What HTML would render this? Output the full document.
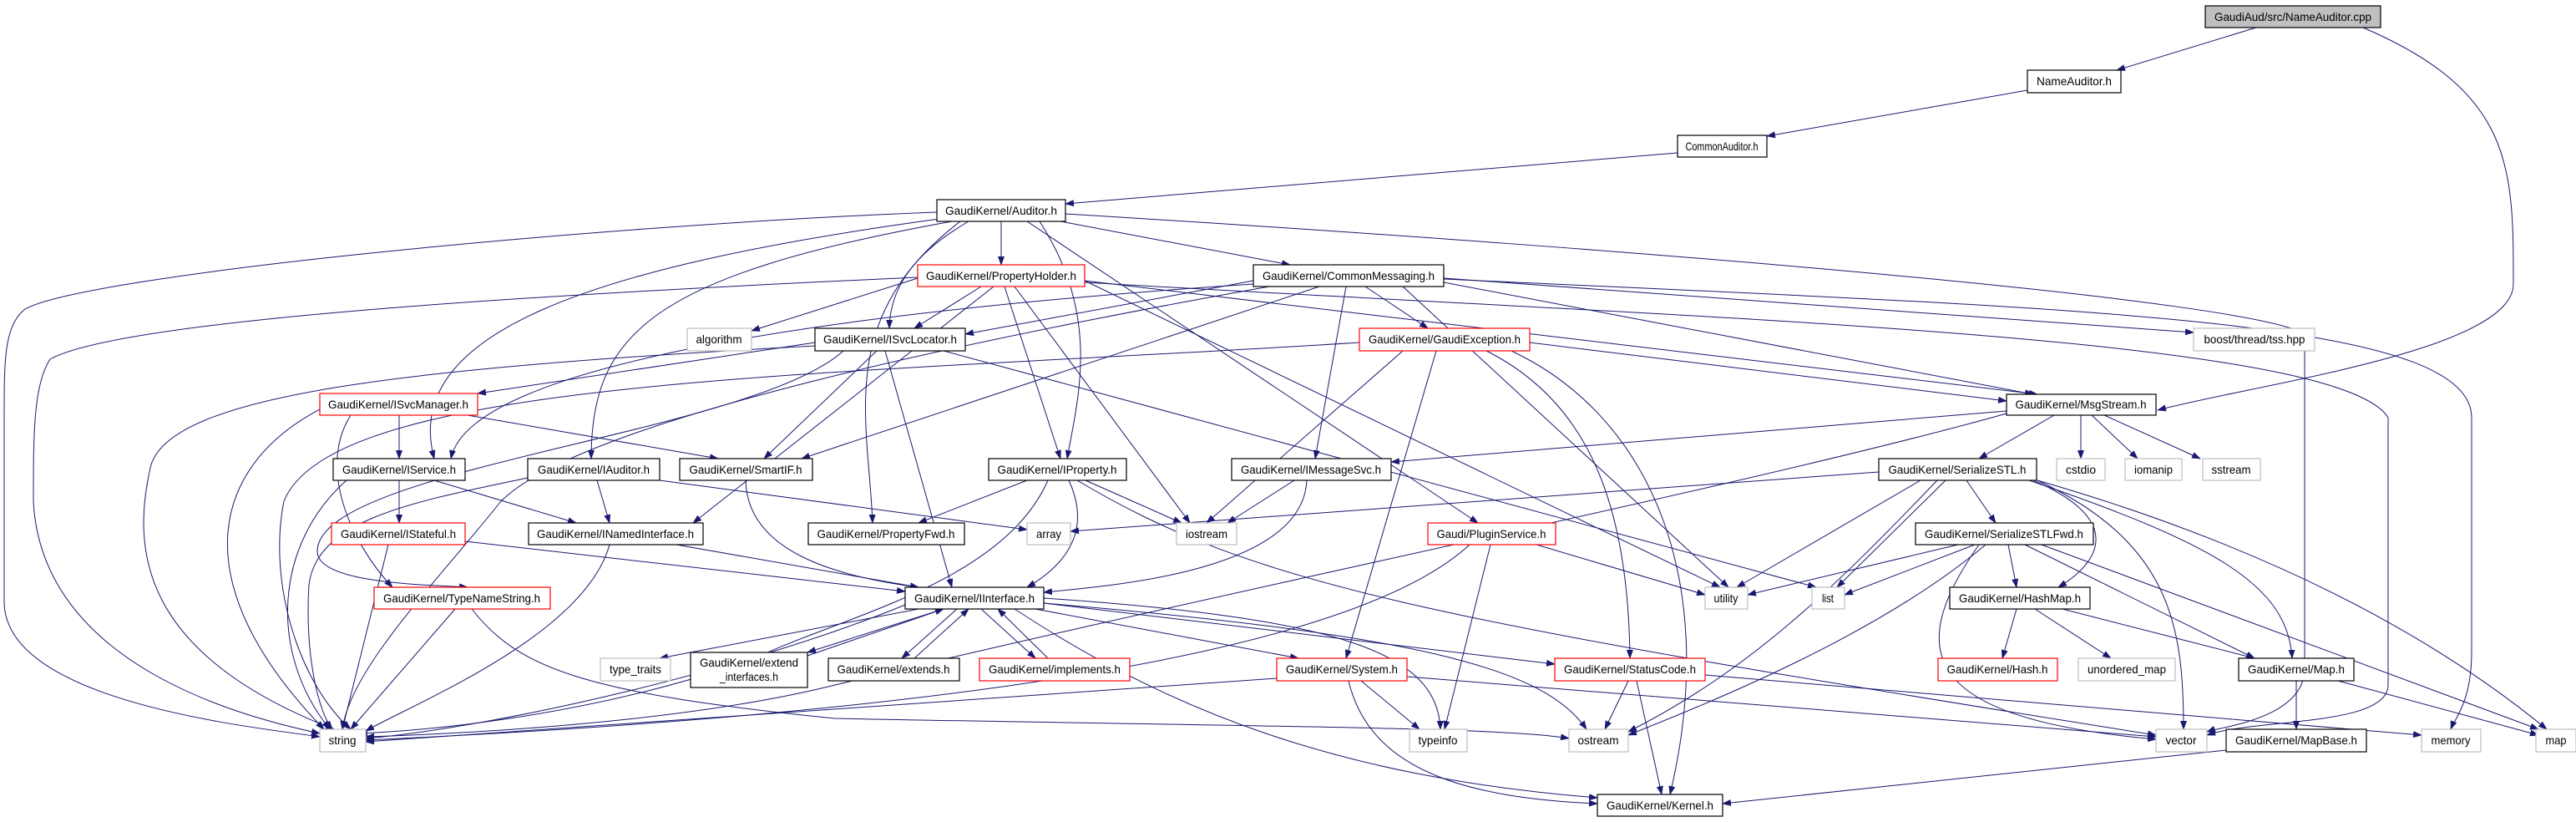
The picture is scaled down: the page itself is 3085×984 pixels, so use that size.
<!DOCTYPE html>
<html><head><meta charset="utf-8"><style>
html,body{margin:0;padding:0;background:#fff;}
svg{display:block;}
text{font-family:"Liberation Sans",sans-serif;font-size:14px;fill:#000;}
.e{stroke:#191970;stroke-width:1;fill:none;marker-end:url(#a);}
.n{fill:#fff;stroke:#000;stroke-width:1.2;}
.r{fill:#fff;stroke:#ff0000;stroke-width:1.2;}
.g{fill:#fff;stroke:#bfbfbf;stroke-width:1.2;}
</style></head><body>
<svg width="3085" height="984" viewBox="0 0 3085 984" xmlns="http://www.w3.org/2000/svg">
<defs><marker id="a" markerWidth="11" markerHeight="8" refX="10" refY="4" orient="auto" markerUnits="userSpaceOnUse"><path d="M0,0 L11,4 L0,8 z" fill="#191970"/></marker></defs>
<g>
<line class="e" x1="2702" y1="33" x2="2535" y2="84"/>
<path class="e" d="M2830,33 C3010,110 3010,200 3010,340 C3010,420 2700,460 2584,491"/>
<line class="e" x1="2428" y1="108" x2="2116" y2="163"/>
<line class="e" x1="2009" y1="183" x2="1276" y2="244"/>
<path class="e" d="M1122,254 C700,270 100,330 30,370 C5,390 5,430 5,500 L5,720 C5,840 300,870 383,882"/>
<line class="e" x1="1199" y1="265" x2="1199" y2="317"/>
<line class="e" x1="1270" y1="265" x2="1545" y2="317"/>
<path class="e" d="M1160,265 C1100,300 1066,340 1065,393"/>
<path class="e" d="M1125,262 C700,320 480,400 520,549"/>
<path class="e" d="M1140,265 C780,330 708,400 708,549"/>
<path class="e" d="M1150,265 C1000,380 1040,500 1045,626"/>
<path class="e" d="M1245,265 C1320,380 1290,480 1278,549"/>
<line class="e" x1="1230" y1="265" x2="1770" y2="626"/>
<path class="e" d="M1276,256 C2000,300 2700,360 2760,400 L2760,800 C2760,860 2660,870 2643,876"/>
<line class="e" x1="1099" y1="333" x2="900" y2="396"/>
<line class="e" x1="1175" y1="343" x2="1095" y2="393"/>
<line class="e" x1="1203" y1="343" x2="1270" y2="549"/>
<line class="e" x1="1215" y1="343" x2="1425" y2="626"/>
<path class="e" d="M1099,332 C700,350 150,380 60,430 C40,460 40,520 40,600 C50,800 300,860 383,878"/>
<line class="e" x1="1190" y1="343" x2="830" y2="626"/>
<line class="e" x1="1299" y1="336" x2="2060" y2="703"/>
<line class="e" x1="1299" y1="336" x2="2440" y2="472"/>
<path class="e" d="M1299,338 C2000,380 2800,400 2860,500 L2860,820 C2860,870 2700,860 2643,880"/>
<line class="e" x1="1501" y1="336" x2="1156" y2="400"/>
<line class="e" x1="1612" y1="343" x2="1575" y2="549"/>
<line class="e" x1="1635" y1="343" x2="1710" y2="393"/>
<line class="e" x1="1729" y1="338" x2="2435" y2="472"/>
<line class="e" x1="1729" y1="333" x2="2627" y2="398"/>
<path class="e" d="M1729,334 C2500,370 2960,380 2960,500 L2960,780 C2960,840 2940,860 2935,873"/>
<line class="e" x1="1580" y1="343" x2="960" y2="549"/>
<path class="e" d="M1501,340 C900,380 560,450 540,549"/>
<line class="e" x1="1680" y1="343" x2="2070" y2="703"/>
<path class="e" d="M1520,343 C1200,400 700,500 600,600 C520,700 420,800 410,873"/>
<line class="e" x1="976" y1="410" x2="572" y2="471"/>
<line class="e" x1="1050" y1="420" x2="915" y2="549"/>
<line class="e" x1="1060" y1="420" x2="1140" y2="703"/>
<line class="e" x1="1130" y1="420" x2="2175" y2="703"/>
<path class="e" d="M1010,420 C900,520 380,560 380,660 C380,700 520,700 560,703"/>
<path class="e" d="M976,414 C500,440 200,470 180,560 C160,650 160,780 400,873"/>
<line class="e" x1="1832" y1="410" x2="2403" y2="480"/>
<line class="e" x1="1680" y1="420" x2="1445" y2="626"/>
<line class="e" x1="1720" y1="420" x2="1612" y2="788"/>
<path class="e" d="M1780,420 C1900,480 1950,600 1952,788"/>
<path class="e" d="M1810,420 C1980,500 2060,700 2000,951"/>
<path class="e" d="M1628,410 C1000,450 400,450 340,600 C320,700 360,820 420,873"/>
<line class="e" x1="478" y1="497" x2="478" y2="549"/>
<line class="e" x1="560" y1="497" x2="860" y2="549"/>
<path class="e" d="M420,497 C380,560 420,650 470,703"/>
<path class="e" d="M383,490 C250,560 220,700 388,873"/>
<line class="e" x1="2403" y1="492" x2="1666" y2="553"/>
<line class="e" x1="2460" y1="497" x2="2370" y2="549"/>
<line class="e" x1="2492" y1="497" x2="2492" y2="549"/>
<line class="e" x1="2505" y1="497" x2="2560" y2="549"/>
<line class="e" x1="2520" y1="497" x2="2635" y2="549"/>
<path class="e" d="M2403,495 C2100,580 1500,700 1000,820 C800,870 500,880 438,882"/>
<line class="e" x1="478" y1="575" x2="478" y2="626"/>
<line class="e" x1="520" y1="575" x2="690" y2="626"/>
<path class="e" d="M415,575 C330,650 320,780 395,873"/>
<line class="e" x1="715" y1="575" x2="730" y2="626"/>
<line class="e" x1="790" y1="575" x2="1230" y2="634"/>
<path class="e" d="M632,572 C500,600 380,620 370,700 C365,780 380,850 398,873"/>
<path class="e" d="M893,575 C895,660 1000,690 1100,703"/>
<line class="e" x1="1230" y1="575" x2="1100" y2="626"/>
<line class="e" x1="1300" y1="575" x2="1415" y2="626"/>
<path class="e" d="M1280,575 C1310,640 1270,680 1230,703"/>
<path class="e" d="M1255,575 C1200,700 1000,740 900,790 C700,860 500,875 430,878"/>
<path class="e" d="M1290,575 C1500,700 1700,740 2582,880"/>
<line class="e" x1="1550" y1="575" x2="1470" y2="626"/>
<path class="e" d="M1565,575 C1560,680 1350,700 1250,709"/>
<line class="e" x1="557" y1="648" x2="1084" y2="708"/>
<line class="e" x1="465" y1="652" x2="410" y2="873"/>
<line class="e" x1="810" y1="652" x2="1100" y2="703"/>
<path class="e" d="M730,652 C700,760 500,840 438,875"/>
<line class="e" x1="545" y1="729" x2="420" y2="873"/>
<path class="e" d="M565,729 C620,800 700,830 1000,860 C1500,870 1800,870 1879,884"/>
<line class="e" x1="1840" y1="652" x2="2042" y2="712"/>
<line class="e" x1="1785" y1="652" x2="1730" y2="873"/>
<path class="e" d="M1760,652 C1600,800 1000,860 438,886"/>
<line class="e" x1="1100" y1="729" x2="790" y2="788"/>
<line class="e" x1="1130" y1="729" x2="967" y2="781"/>
<line class="e" x1="967" y1="785" x2="1130" y2="729"/>
<line class="e" x1="1146" y1="729" x2="1080" y2="788"/>
<line class="e" x1="1095" y1="788" x2="1160" y2="729"/>
<line class="e" x1="1175" y1="729" x2="1240" y2="788"/>
<line class="e" x1="1255" y1="788" x2="1195" y2="729"/>
<line class="e" x1="1240" y1="729" x2="1555" y2="788"/>
<line class="e" x1="1250" y1="722" x2="1862" y2="795"/>
<path class="e" d="M1250,716 C1600,740 1722,780 1725,873"/>
<path class="e" d="M1250,722 C1700,760 1850,800 1900,873"/>
<path class="e" d="M1084,724 C900,800 600,870 438,884"/>
<path class="e" d="M1215,729 C1400,850 1600,930 1913,955"/>
<line class="e" x1="1529" y1="812" x2="438" y2="888"/>
<line class="e" x1="1630" y1="815" x2="1700" y2="873"/>
<path class="e" d="M1615,815 C1640,920 1750,955 1913,962"/>
<line class="e" x1="1685" y1="810" x2="2582" y2="882"/>
<line class="e" x1="1950" y1="815" x2="1922" y2="873"/>
<line class="e" x1="1960" y1="815" x2="1990" y2="951"/>
<line class="e" x1="2042" y1="808" x2="2900" y2="880"/>
<line class="e" x1="2355" y1="575" x2="2390" y2="626"/>
<line class="e" x1="2300" y1="575" x2="2080" y2="703"/>
<line class="e" x1="2330" y1="575" x2="2200" y2="703"/>
<line class="e" x1="2250" y1="565" x2="1282" y2="636"/>
<path class="e" d="M2320,575 C2200,700 2100,800 1950,876"/>
<path class="e" d="M2440,575 C2600,650 2615,750 2615,873"/>
<path class="e" d="M2435,575 C2540,620 2520,670 2465,703"/>
<path class="e" d="M2430,575 C2650,650 2740,700 2745,788"/>
<path class="e" d="M2440,575 C2700,650 2900,750 3050,873"/>
<line class="e" x1="2345" y1="652" x2="2093" y2="712"/>
<line class="e" x1="2365" y1="652" x2="2209" y2="712"/>
<line class="e" x1="2405" y1="652" x2="2415" y2="703"/>
<line class="e" x1="2425" y1="652" x2="2700" y2="788"/>
<line class="e" x1="2445" y1="652" x2="3040" y2="873"/>
<path class="e" d="M2378,652 C2250,760 2050,840 1950,880"/>
<path class="e" d="M2370,652 C2280,780 2300,860 2582,885"/>
<line class="e" x1="2415" y1="729" x2="2398" y2="788"/>
<line class="e" x1="2437" y1="729" x2="2528" y2="788"/>
<line class="e" x1="2470" y1="729" x2="2700" y2="788"/>
<line class="e" x1="2750" y1="815" x2="2750" y2="873"/>
<line class="e" x1="2800" y1="815" x2="3040" y2="880"/>
<line class="e" x1="2666" y1="898" x2="2063" y2="962"/>
</g>
<g>
<rect x="2641" y="7" width="210" height="26" fill="#bfbfbf" stroke="#000" stroke-width="1.2"/><text x="2746" y="25" text-anchor="middle" textLength="188" lengthAdjust="spacingAndGlyphs">GaudiAud/src/NameAuditor.cpp</text>
<rect class="n" x="2428" y="84" width="112" height="27"/><text x="2484" y="102" text-anchor="middle" textLength="90" lengthAdjust="spacingAndGlyphs">NameAuditor.h</text>
<rect class="n" x="2009" y="162" width="107" height="26"/><text x="2062" y="180" text-anchor="middle" textLength="87" lengthAdjust="spacingAndGlyphs">CommonAuditor.h</text>
<rect class="n" x="1122" y="239" width="154" height="26"/><text x="1199" y="257" text-anchor="middle" textLength="134" lengthAdjust="spacingAndGlyphs">GaudiKernel/Auditor.h</text>
<rect class="r" x="1099" y="317" width="200" height="26"/><text x="1199" y="335" text-anchor="middle" textLength="180" lengthAdjust="spacingAndGlyphs">GaudiKernel/PropertyHolder.h</text>
<rect class="n" x="1501" y="317" width="228" height="26"/><text x="1615" y="335" text-anchor="middle" textLength="206" lengthAdjust="spacingAndGlyphs">GaudiKernel/CommonMessaging.h</text>
<rect class="g" x="823" y="393" width="77" height="27"/><text x="861" y="411" text-anchor="middle" textLength="55" lengthAdjust="spacingAndGlyphs">algorithm</text>
<rect class="n" x="976" y="393" width="180" height="27"/><text x="1066" y="411" text-anchor="middle" textLength="160" lengthAdjust="spacingAndGlyphs">GaudiKernel/ISvcLocator.h</text>
<rect class="r" x="1628" y="393" width="204" height="27"/><text x="1730" y="411" text-anchor="middle" textLength="182" lengthAdjust="spacingAndGlyphs">GaudiKernel/GaudiException.h</text>
<rect class="g" x="2627" y="393" width="145" height="27"/><text x="2700" y="411" text-anchor="middle" textLength="121" lengthAdjust="spacingAndGlyphs">boost/thread/tss.hpp</text>
<rect class="r" x="383" y="471" width="189" height="26"/><text x="477" y="489" text-anchor="middle" textLength="168" lengthAdjust="spacingAndGlyphs">GaudiKernel/ISvcManager.h</text>
<rect class="n" x="2403" y="472" width="179" height="25"/><text x="2492" y="489" text-anchor="middle" textLength="157" lengthAdjust="spacingAndGlyphs">GaudiKernel/MsgStream.h</text>
<rect class="n" x="399" y="549" width="158" height="26"/><text x="478" y="567" text-anchor="middle" textLength="136" lengthAdjust="spacingAndGlyphs">GaudiKernel/IService.h</text>
<rect class="n" x="632" y="549" width="158" height="26"/><text x="711" y="567" text-anchor="middle" textLength="134" lengthAdjust="spacingAndGlyphs">GaudiKernel/IAuditor.h</text>
<rect class="n" x="814" y="549" width="159" height="26"/><text x="893" y="567" text-anchor="middle" textLength="135" lengthAdjust="spacingAndGlyphs">GaudiKernel/SmartIF.h</text>
<rect class="n" x="1184" y="549" width="165" height="26"/><text x="1266" y="567" text-anchor="middle" textLength="143" lengthAdjust="spacingAndGlyphs">GaudiKernel/IProperty.h</text>
<rect class="n" x="1475" y="549" width="191" height="26"/><text x="1570" y="567" text-anchor="middle" textLength="168" lengthAdjust="spacingAndGlyphs">GaudiKernel/IMessageSvc.h</text>
<rect class="n" x="2250" y="549" width="189" height="26"/><text x="2344" y="567" text-anchor="middle" textLength="165" lengthAdjust="spacingAndGlyphs">GaudiKernel/SerializeSTL.h</text>
<rect class="g" x="2463" y="549" width="58" height="26"/><text x="2492" y="567" text-anchor="middle" textLength="36" lengthAdjust="spacingAndGlyphs">cstdio</text>
<rect class="g" x="2545" y="549" width="68" height="26"/><text x="2579" y="567" text-anchor="middle" textLength="46" lengthAdjust="spacingAndGlyphs">iomanip</text>
<rect class="g" x="2638" y="549" width="69" height="26"/><text x="2672" y="567" text-anchor="middle" textLength="47" lengthAdjust="spacingAndGlyphs">sstream</text>
<rect class="r" x="397" y="626" width="160" height="26"/><text x="477" y="644" text-anchor="middle" textLength="138" lengthAdjust="spacingAndGlyphs">GaudiKernel/IStateful.h</text>
<rect class="n" x="633" y="626" width="209" height="26"/><text x="737" y="644" text-anchor="middle" textLength="188" lengthAdjust="spacingAndGlyphs">GaudiKernel/INamedInterface.h</text>
<rect class="n" x="968" y="626" width="187" height="26"/><text x="1061" y="644" text-anchor="middle" textLength="165" lengthAdjust="spacingAndGlyphs">GaudiKernel/PropertyFwd.h</text>
<rect class="g" x="1230" y="626" width="52" height="26"/><text x="1256" y="644" text-anchor="middle" textLength="30" lengthAdjust="spacingAndGlyphs">array</text>
<rect class="g" x="1409" y="626" width="72" height="26"/><text x="1445" y="644" text-anchor="middle" textLength="50" lengthAdjust="spacingAndGlyphs">iostream</text>
<rect class="r" x="1710" y="626" width="153" height="26"/><text x="1786" y="644" text-anchor="middle" textLength="131" lengthAdjust="spacingAndGlyphs">Gaudi/PluginService.h</text>
<rect class="n" x="2294" y="626" width="213" height="26"/><text x="2400" y="644" text-anchor="middle" textLength="190" lengthAdjust="spacingAndGlyphs">GaudiKernel/SerializeSTLFwd.h</text>
<rect class="r" x="448" y="703" width="211" height="26"/><text x="553" y="721" text-anchor="middle" textLength="188" lengthAdjust="spacingAndGlyphs">GaudiKernel/TypeNameString.h</text>
<rect class="n" x="1084" y="703" width="166" height="26"/><text x="1167" y="721" text-anchor="middle" textLength="144" lengthAdjust="spacingAndGlyphs">GaudiKernel/IInterface.h</text>
<rect class="g" x="2042" y="703" width="51" height="26"/><text x="2067" y="721" text-anchor="middle" textLength="29" lengthAdjust="spacingAndGlyphs">utility</text>
<rect class="g" x="2170" y="703" width="39" height="26"/><text x="2189" y="721" text-anchor="middle" textLength="14" lengthAdjust="spacingAndGlyphs">list</text>
<rect class="n" x="2335" y="703" width="168" height="26"/><text x="2419" y="721" text-anchor="middle" textLength="146" lengthAdjust="spacingAndGlyphs">GaudiKernel/HashMap.h</text>
<rect class="g" x="719" y="788" width="84" height="27"/><text x="761" y="806" text-anchor="middle" textLength="62" lengthAdjust="spacingAndGlyphs">type_traits</text>
<rect class="n" x="827" y="781" width="140" height="42"/><text x="897" y="798" text-anchor="middle" textLength="118" lengthAdjust="spacingAndGlyphs">GaudiKernel/extend</text><text x="897" y="815" text-anchor="middle" textLength="70" lengthAdjust="spacingAndGlyphs">_interfaces.h</text>
<rect class="n" x="992" y="788" width="157" height="27"/><text x="1070" y="806" text-anchor="middle" textLength="135" lengthAdjust="spacingAndGlyphs">GaudiKernel/extends.h</text>
<rect class="r" x="1173" y="788" width="180" height="27"/><text x="1263" y="806" text-anchor="middle" textLength="158" lengthAdjust="spacingAndGlyphs">GaudiKernel/implements.h</text>
<rect class="r" x="1529" y="788" width="156" height="27"/><text x="1607" y="806" text-anchor="middle" textLength="134" lengthAdjust="spacingAndGlyphs">GaudiKernel/System.h</text>
<rect class="r" x="1862" y="788" width="180" height="27"/><text x="1952" y="806" text-anchor="middle" textLength="158" lengthAdjust="spacingAndGlyphs">GaudiKernel/StatusCode.h</text>
<rect class="r" x="2321" y="788" width="143" height="27"/><text x="2392" y="806" text-anchor="middle" textLength="121" lengthAdjust="spacingAndGlyphs">GaudiKernel/Hash.h</text>
<rect class="g" x="2489" y="788" width="116" height="27"/><text x="2547" y="806" text-anchor="middle" textLength="94" lengthAdjust="spacingAndGlyphs">unordered_map</text>
<rect class="n" x="2681" y="788" width="138" height="27"/><text x="2750" y="806" text-anchor="middle" textLength="116" lengthAdjust="spacingAndGlyphs">GaudiKernel/Map.h</text>
<rect class="g" x="383" y="873" width="55" height="27"/><text x="410" y="891" text-anchor="middle" textLength="33" lengthAdjust="spacingAndGlyphs">string</text>
<rect class="g" x="1688" y="873" width="69" height="27"/><text x="1722" y="891" text-anchor="middle" textLength="47" lengthAdjust="spacingAndGlyphs">typeinfo</text>
<rect class="g" x="1879" y="873" width="71" height="27"/><text x="1914" y="891" text-anchor="middle" textLength="49" lengthAdjust="spacingAndGlyphs">ostream</text>
<rect class="g" x="2582" y="873" width="61" height="27"/><text x="2612" y="891" text-anchor="middle" textLength="37" lengthAdjust="spacingAndGlyphs">vector</text>
<rect class="n" x="2666" y="873" width="168" height="27"/><text x="2750" y="891" text-anchor="middle" textLength="146" lengthAdjust="spacingAndGlyphs">GaudiKernel/MapBase.h</text>
<rect class="g" x="2900" y="873" width="71" height="27"/><text x="2935" y="891" text-anchor="middle" textLength="47" lengthAdjust="spacingAndGlyphs">memory</text>
<rect class="g" x="3037" y="873" width="48" height="27"/><text x="3061" y="891" text-anchor="middle" textLength="25" lengthAdjust="spacingAndGlyphs">map</text>
<rect class="n" x="1913" y="951" width="150" height="26"/><text x="1988" y="969" text-anchor="middle" textLength="128" lengthAdjust="spacingAndGlyphs">GaudiKernel/Kernel.h</text>
</g>
</svg>
</body></html>
